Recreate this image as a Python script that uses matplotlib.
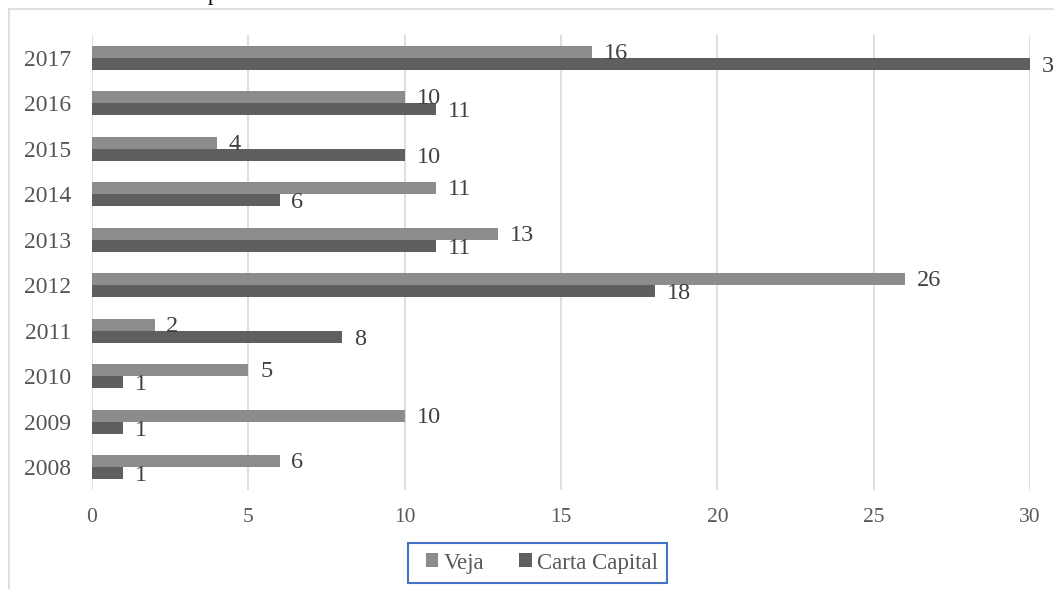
import matplotlib
matplotlib.use("Agg")
import matplotlib.pyplot as plt
from matplotlib.lines import Line2D
from matplotlib.patches import Rectangle
import numpy as np

years = ["2008", "2009", "2010", "2011", "2012", "2013", "2014", "2015", "2016", "2017"]
veja = [6, 10, 5, 2, 26, 13, 11, 4, 10, 16]
carta = [1, 1, 1, 8, 18, 11, 6, 10, 11, 30]
xticks = [0, 5, 10, 15, 20, 25, 30]

plt.rcParams['font.family'] = ['Liberation Serif', 'DejaVu Serif']

W, H = 1054, 589
fig = plt.figure(figsize=(W/100, H/100), dpi=100)
ax = fig.add_axes([92/W, 1-490/H, (1030-92)/W, (490-35)/H])

y = np.arange(len(years))
h = 0.26
c_veja = "#8c8c8c"
c_carta = "#5f5f5f"
ax.barh(y + h/2, veja, height=h, color=c_veja, label="Veja", zorder=3)
ax.barh(y - h/2, carta, height=h, color=c_carta, label="Carta Capital", zorder=3)

for yi, v in zip(y, veja):
    ax.annotate(str(v), (v, yi + h/2), xytext=(8.5, -1), textcoords="offset points",
                va="center", ha="left", fontsize=17.5, color="#404040", annotation_clip=False)
for yi, v in zip(y, carta):
    ax.annotate(str(v), (v, yi - h/2), xytext=(8.5, -2), textcoords="offset points",
                va="center", ha="left", fontsize=17.5, color="#404040", annotation_clip=False)

ax.set_xlim(0, 30)
ax.set_ylim(-0.5, 9.5)
ax.set_yticks(y)
ax.set_yticklabels(years, fontsize=17, color="#555555")
ax.set_xticks(xticks)
ax.set_xticklabels([str(t) for t in xticks], fontsize=15.5, color="#595959")
ax.tick_params(axis="y", length=0, pad=15)
ax.tick_params(axis="x", length=0, pad=13)
ax.grid(axis="x", color="#d9d9d9", linewidth=1.2, zorder=0)
for s in ax.spines.values():
    s.set_visible(False)

leg = fig.legend(loc="center", bbox_to_anchor=(542/W, 1-563/H), ncol=2,
                 fontsize=16.5, frameon=False, handlelength=0.55,
                 handleheight=0.55, handletextpad=0.25, columnspacing=1.5,
                 borderpad=0.4)
for t in leg.get_texts():
    t.set_color("#595959")
fig.add_artist(Rectangle((408/W, 1-583/H), (667-408)/W, 40/H, transform=fig.transFigure,
                         fill=False, edgecolor="#4472c4", linewidth=1.5))

fig.add_artist(Line2D([9/W, 9/W], [0, 1-9/H], transform=fig.transFigure,
                      color="#d9d9d9", linewidth=1.2))
fig.add_artist(Line2D([9/W, 1], [1-9/H, 1-9/H], transform=fig.transFigure,
                      color="#d9d9d9", linewidth=1.2))
fig.text(208/W, 1.0, "p", fontsize=16, va="baseline", ha="left", color="black")

fig.savefig("out.png", dpi=100)
